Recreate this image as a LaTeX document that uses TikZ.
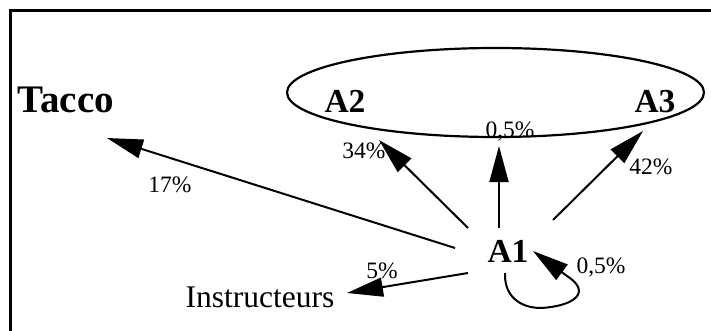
\documentclass[tikz,border=0pt]{standalone}
\usepackage{fontspec}
\setmainfont{Liberation Serif}
\usetikzlibrary{arrows.meta,shapes.geometric}
\begin{document}
\begin{tikzpicture}[x=1pt,y=-1pt,
  bigbold/.style={font=\fontsize{39}{42}\selectfont\bfseries, inner sep=0pt, anchor=base},
  agent/.style={font=\fontsize{33.5}{37}\selectfont\bfseries, inner sep=0pt, anchor=base},
  plain/.style={font=\fontsize{31.5}{35}\selectfont, inner sep=0pt, anchor=base},
  pct/.style={font=\fontsize{23.5}{26}\selectfont, inner sep=0pt, anchor=base},
  arr/.style={line width=2pt, -{Triangle[length=36pt,width=19pt]}},
  frame/.style={line width=2.5pt}]
\useasboundingbox (0,0) rectangle (711,331);
% frame (left and top edges)
\draw[frame] (10.5,331) -- (10.5,10.5) -- (711,10.5);
% group ellipse
\node[ellipse, draw, line width=2.2pt, minimum width=417pt, minimum height=89pt, inner sep=0pt] (grp) at (495.5,92.5) {};
% nodes
\node[bigbold] (tacco) at (66,113) {Tacco};
\node[agent] (a2) at (345,113) {A2};
\node[agent] (a3) at (655,113) {A3};
\node[agent] (a1) at (508,262) {A1};
\node[plain] (instr) at (260,307) {Instructeurs};
% connector ends
\coordinate (sT) at (455,248);
\coordinate (tT) at (107,138);
\coordinate (s2) at (468,228);
\coordinate (t2) at (379,140);
\coordinate (sM) at (499,228);
\coordinate (tM) at (499,146);
\coordinate (s3) at (553,220);
\coordinate (t3) at (643,131);
\coordinate (sI) at (468,273);
\coordinate (tI) at (347,293);
\coordinate (l0) at (505,273);
\coordinate (l1) at (541,308);
\coordinate (l2) at (567,276);
\coordinate (tL) at (533,251);
% connectors
\draw[arr] (sT) -- (tT);
\draw[arr] (s2) -- (t2);
\draw[arr] (sM) -- (tM);
\draw[arr] (s3) -- (t3);
\draw[arr] (sI) -- (tI);
\draw[arr] (l0) .. controls (504,296) and (520,308) .. (l1)
  .. controls (575,306) and (592,292) .. (l2) -- (tL);
% labels
\node[pct] (p17) at (170,192) {17\%};
\node[pct] (p34) at (364,158) {34\%};
\node[pct] (p05a) at (510,138) {0,5\%};
\node[pct] (p42) at (651,175) {42\%};
\node[pct] (p5) at (382,278) {5\%};
\node[pct] (p05b) at (601,273) {0,5\%};
\end{tikzpicture}
\end{document}
